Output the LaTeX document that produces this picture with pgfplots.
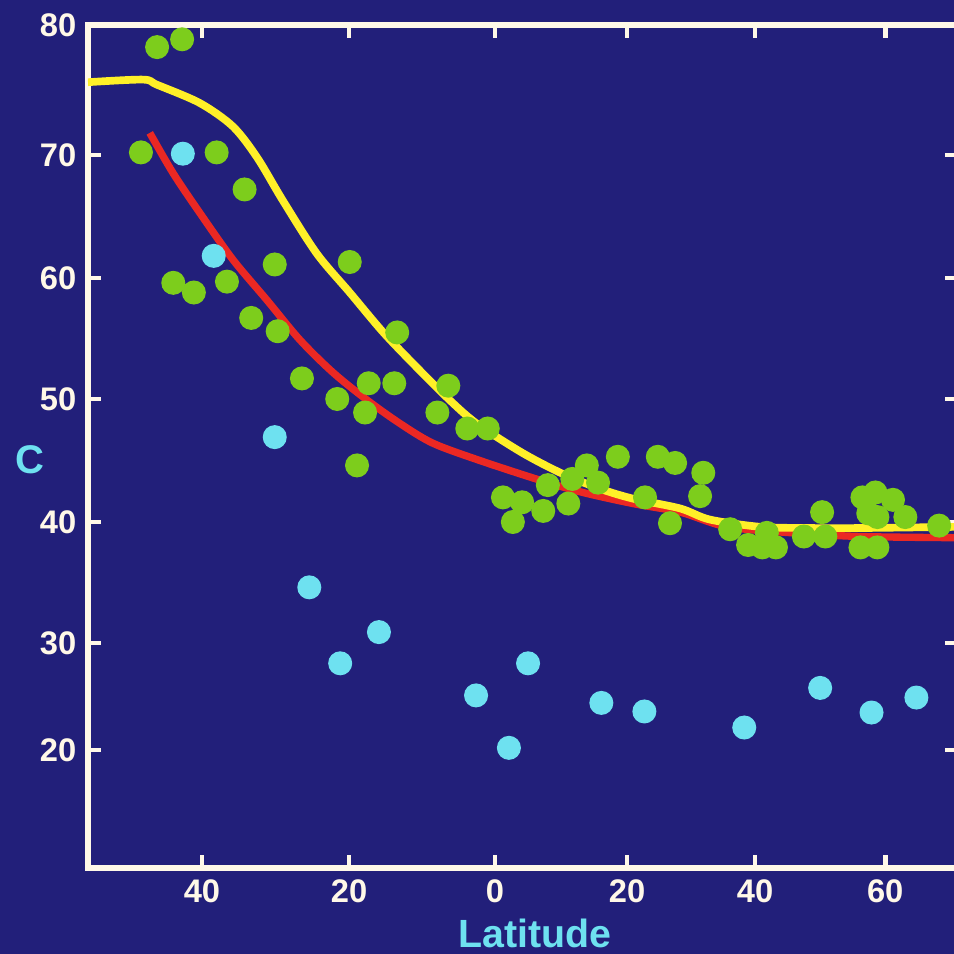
\documentclass[border=0pt]{standalone}
\usepackage{fontspec}
\setmainfont{Liberation Sans}
\usepackage{pgfplots}
\pgfplotsset{compat=1.18}
\definecolor{slidebg}{RGB}{34,31,122}
\definecolor{cream}{RGB}{255,248,232}
\definecolor{dotgreen}{RGB}{125,205,28}
\definecolor{dotcyan}{RGB}{110,225,240}
\definecolor{lineyellow}{RGB}{255,240,40}
\definecolor{linered}{RGB}{235,40,35}

\begin{document}
\begin{tikzpicture}
\fill[slidebg] (-26.4pt,-25.8pt) rectangle (259.8pt,260.4pt);
\begin{scope}[overlay]
\clip (-26.4pt,-25.8pt) rectangle (259.8pt,260.4pt);
\begin{axis}[
  at={(0,0)}, anchor=south west,
  scale only axis, width=261pt, height=252.9pt,
  % the photographed slide is slightly stretched; follow its tick spacing
  x coord trafo/.code={\pgfmathparse{(#1)<-20 ? 202+7.35*((#1)+40) : ((#1)<0 ? 349+7.3*((#1)+20) : ((#1)<20 ? 495+6.6*(#1) : ((#1)<40 ? 627+6.4*((#1)-20) : 755+6.5*((#1)-40))))}},
  x coord inv trafo/.code={\pgfmathparse{(#1)<349 ? -40+((#1)-202)/7.35 : ((#1)<495 ? -20+((#1)-349)/7.3 : ((#1)<627 ? ((#1)-495)/6.6 : ((#1)<755 ? 20+((#1)-627)/6.4 : 40+((#1)-755)/6.5)))}},
  y coord trafo/.code={\pgfmathparse{-((#1)>70 ? 155-13*((#1)-70) : ((#1)>60 ? 278-12.3*((#1)-60) : ((#1)>50 ? 399-12.1*((#1)-50) : ((#1)>40 ? 522-12.3*((#1)-40) : ((#1)>30 ? 643-12.1*((#1)-30) : 750-10.7*((#1)-20))))))}},
  y coord inv trafo/.code={\pgfmathparse{(#1)>-155 ? 70+(155+(#1))/13 : ((#1)>-278 ? 60+(278+(#1))/12.3 : ((#1)>-399 ? 50+(399+(#1))/12.1 : ((#1)>-522 ? 40+(522+(#1))/12.3 : ((#1)>-643 ? 30+(643+(#1))/12.1 : 20+(750+(#1))/10.7))))}},
  xmin=-55.5, xmax=71.2, ymin=8.97, ymax=80,
  xtick={-40,-20,0,20,40,60},
  xticklabels={40,20,0,20,40,60},
  ytick={20,30,40,50,60,70,80},
  yticklabels={20,30,40,50,60,70,80},
  tick align=inside, xtick pos=both, ytick pos=both,
  xticklabel pos=lower, yticklabel pos=left,
  major tick length=3.9pt,
  axis line style={cream, line width=1.6pt},
  major tick style={cream, line width=1.4pt},
  tick label style={text=cream, font=\bfseries\fontsize{9.8}{10}\selectfont},
  xlabel={Latitude},
  xlabel style={text=dotcyan, font=\bfseries\fontsize{11.8}{12}\selectfont,
    at={(axis description cs:0.514,-0.078)}, anchor=center},
  ylabel={C},
  ylabel style={text=dotcyan, font=\bfseries\fontsize{12}{12}\selectfont, rotate=-90,
    at={(axis description cs:-0.067,0.484)}, anchor=center},
  clip=false,
]
% fitted curves
\addplot[no markers, smooth, tension=0.5, line width=2.2pt, color=linered] coordinates {
  (-47.1,71.7) (-43.9,68.5) (-40.3,65.3) (-35.8,61.5) (-31.2,58.2) (-26.7,54.9)
  (-22.2,52.2) (-17.5,49.9) (-13.0,48.0) (-8.5,46.4) (-2.1,45.0) (6.8,43.4)
  (13.3,42.4) (20.9,41.5) (28.3,40.8) (35.6,39.6) (45.8,39.1) (56.2,38.8) (71.2,38.7)
};
\addplot[no markers, smooth, tension=0.5, line width=2.3pt, color=lineyellow] coordinates {
  (-55.5,75.6) (-48.0,75.8) (-46.1,75.4) (-40.3,74.0) (-35.8,72.2) (-32.5,69.8)
  (-29.0,66.3) (-24.4,62.0) (-19.9,58.8) (-15.3,55.5) (-10.7,52.6) (-6.2,49.9)
  (-2.5,48.0) (4.2,45.6) (10.3,43.9) (15.9,42.7) (20.9,41.9) (28.3,41.1)
  (32.9,40.2) (40.8,39.6) (48.5,39.5) (56.2,39.5) (71.2,39.6)
};
% green points
\addplot[only marks, mark=*, mark size=3.4pt, color=dotgreen] coordinates {
  (-46.1,78.3) (-42.7,78.9) (-48.3,70.2) (-38.0,70.2) (-34.2,67.2) (-43.9,59.6)
  (-41.1,58.8) (-36.6,59.7) (-30.1,61.1) (-19.9,61.3) (-33.3,56.7) (-29.7,55.6)
  (-13.4,55.5) (-26.4,51.7) (-21.6,50.0) (-17.3,51.3) (-13.8,51.3) (-17.8,48.9)
  (-6.4,51.1) (-7.9,48.9) (-3.8,47.6) (-1.0,47.6) (-18.9,44.6) (1.2,42.0)
  (4.1,41.6) (2.7,40.0) (7.3,40.9) (8.0,43.0) (11.1,41.5) (11.7,43.5)
  (13.9,44.6) (15.6,43.2) (18.6,45.3) (22.8,42.0) (24.8,45.3) (27.5,44.8)
  (26.7,39.9) (31.9,44.0) (31.4,42.1) (36.1,39.4) (38.9,38.1) (41.1,37.9)
  (41.8,39.1) (43.2,37.9) (47.5,38.8) (50.8,38.8) (50.3,40.8) (56.5,42.0)
  (58.5,42.4) (61.2,41.8) (57.4,40.7) (63.1,40.4) (58.8,40.4) (56.2,37.9)
  (58.8,37.9) (68.3,39.7)
};
% cyan points
\addplot[only marks, mark=*, mark size=3.4pt, color=dotcyan] coordinates {
  (-42.6,70.1) (-38.4,61.8) (-30.1,46.9) (-25.4,34.6) (-15.9,30.9) (-21.2,28.1)
  (-2.6,25.1) (2.1,20.2) (5.0,28.1) (16.1,24.4) (22.7,23.6) (38.3,22.1)
  (50.0,25.8) (57.9,23.5) (64.8,24.9)
};
\end{axis}
\end{scope}
\end{tikzpicture}
\end{document}
